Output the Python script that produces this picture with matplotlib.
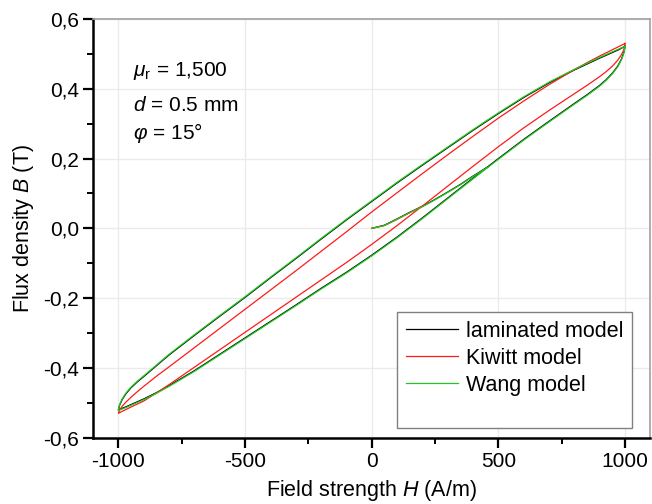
import matplotlib.pyplot as plt
from matplotlib.lines import Line2D
from matplotlib.ticker import MultipleLocator

plt.rcParams['font.family'] = ['Liberation Sans', 'DejaVu Sans']
plt.rcParams['mathtext.fontset'] = 'custom'
plt.rcParams['mathtext.rm'] = 'Liberation Sans'
plt.rcParams['mathtext.it'] = 'Liberation Sans:italic'
plt.rcParams['axes.unicode_minus'] = False

# field strength for the falling and rising branches (A/m)
H_down = [1000, 975, 950, 900, 850, 800, 700, 600, 500, 400, 300, 200, 100, 0,
          -100, -200, -300, -400, -500, -600, -700, -800, -850, -900, -925, -950, -970, -985, -995, -1000]
H_up = [-1000, -975, -950, -900, -850, -800, -700, -600, -500, -400, -300, -200, -100, 0,
        100, 200, 300, 400, 500, 600, 700, 800, 850, 900, 925, 950, 970, 985, 995, 1000]

# flux density (T)
lam_down = [0.522, 0.512, 0.504, 0.488, 0.471, 0.454, 0.417, 0.375, 0.329, 0.281, 0.231, 0.181, 0.130, 0.077,
            0.024, -0.031, -0.087, -0.142, -0.198, -0.252, -0.307, -0.363, -0.394, -0.425, -0.440, -0.457,
            -0.474, -0.491, -0.507, -0.520]
lam_up = [-0.520, -0.513, -0.505, -0.489, -0.471, -0.451, -0.408, -0.361, -0.314, -0.267, -0.220, -0.172,
          -0.126, -0.077, -0.025, 0.030, 0.087, 0.144, 0.200, 0.255, 0.307, 0.358, 0.383, 0.410, 0.426,
          0.445, 0.464, 0.484, 0.504, 0.522]

kiw_down = [0.530, 0.521, 0.512, 0.494, 0.475, 0.455, 0.412, 0.365, 0.316, 0.264, 0.211, 0.157, 0.102, 0.047,
            -0.010, -0.066, -0.122, -0.177, -0.232, -0.287, -0.342, -0.397, -0.424, -0.453, -0.468, -0.484,
            -0.498, -0.510, -0.521, -0.530]
kiw_up = [-0.530, -0.521, -0.512, -0.495, -0.472, -0.448, -0.398, -0.348, -0.298, -0.248, -0.198, -0.148,
          -0.098, -0.046, 0.008, 0.064, 0.121, 0.178, 0.234, 0.288, 0.338, 0.386, 0.410, 0.435, 0.449,
          0.465, 0.481, 0.497, 0.512, 0.530]

wang_down = [0.522, 0.514, 0.506, 0.490, 0.473, 0.456, 0.419, 0.377, 0.331, 0.283, 0.233, 0.183, 0.132, 0.079,
             0.026, -0.029, -0.085, -0.140, -0.196, -0.250, -0.305, -0.361, -0.392, -0.423, -0.438, -0.455,
             -0.472, -0.489, -0.505, -0.520]
wang_up = [-0.522, -0.515, -0.507, -0.491, -0.473, -0.453, -0.410, -0.363, -0.316, -0.269, -0.222, -0.174,
           -0.128, -0.079, -0.027, 0.028, 0.085, 0.142, 0.198, 0.253, 0.305, 0.356, 0.381, 0.408, 0.424,
           0.443, 0.462, 0.482, 0.502, 0.520]

# initial magnetisation curves
H_init_kiw = [0, 50, 100, 150, 200]
kiw_init = [0.0, 0.008, 0.026, 0.045, 0.064]
H_init = [0, 50, 100, 150, 200, 250, 300, 350, 400, 460]
lam_init = [0.0, 0.009, 0.027, 0.046, 0.063, 0.083, 0.104, 0.126, 0.150, 0.177]
wang_init = [0.0, 0.008, 0.026, 0.045, 0.062, 0.082, 0.103, 0.125, 0.149, 0.176]

x_ticks = [-1000, -500, 0, 500, 1000]
y_ticks = [-0.6, -0.4, -0.2, 0.0, 0.2, 0.4, 0.6]
y_labels = ['-0,6', '-0,4', '-0,2', '0,0', '0,2', '0,4', '0,6']

models = [
    ('laminated model', '#000000', lam_init, lam_down, lam_up, H_init),
    ('Kiwitt model', '#ff1a1a', kiw_init, kiw_down, kiw_up, H_init_kiw),
    ('Wang model', '#22c822', wang_init, wang_down, wang_up, H_init),
]

fig = plt.figure(figsize=(6.52, 5.04), dpi=100)
ax = fig.add_axes([0.1426, 0.1315, 0.855, 0.8308])

for name, col, b_init, b_down, b_up, h_init in models:
    ax.plot(h_init, b_init, color=col, lw=0.9)
    ax.plot(H_down + H_up, b_down + b_up, color=col, lw=0.9)

ax.set_xlim(-1100, 1100)
ax.set_ylim(-0.6, 0.6)
ax.set_xticks(x_ticks)
ax.set_yticks(y_ticks)
ax.set_yticklabels(y_labels)
ax.xaxis.set_minor_locator(MultipleLocator(250))
ax.yaxis.set_minor_locator(MultipleLocator(0.1))
ax.grid(True, which='major', color='#ebebeb', lw=1)
ax.set_axisbelow(True)

for side in ['left', 'bottom']:
    ax.spines[side].set_linewidth(1.8)
    ax.spines[side].set_color('black')
for side in ['top', 'right']:
    ax.spines[side].set_linewidth(1.2)
    ax.spines[side].set_color('#a0a0a0')

ax.tick_params(which='major', direction='out', length=7, width=1.6, labelsize=15, pad=3,
               top=False, right=False)
ax.tick_params(which='minor', direction='out', length=4, width=1.4, top=False, right=False)

ax.set_xlabel('Field strength $H$ (A/m)', fontsize=15.5, labelpad=5)
ax.set_ylabel('Flux density $B$ (T)', fontsize=15.5, labelpad=5)

ax.text(0.072, 0.875, r'$\mu_\mathrm{r}$ = 1,500', transform=ax.transAxes, fontsize=15, va='center')
ax.text(0.072, 0.794, r'$d$ = 0.5 mm', transform=ax.transAxes, fontsize=15, va='center')
ax.text(0.072, 0.727, r'$\varphi$ = 15°', transform=ax.transAxes, fontsize=15, va='center')

handles = [Line2D([], [], color=c, lw=0.9) for _, c, *_ in models]
handles.append(Line2D([], [], color='none'))
labels = [m[0] for m in models] + [' ']
leg = ax.legend(handles, labels, loc='upper left', bbox_to_anchor=(0.546, 0.301),
                fontsize=15.5, frameon=True, fancybox=False, framealpha=1,
                edgecolor='#808080', handlelength=2.4, handletextpad=0.35,
                borderpad=0.42, labelspacing=0.28, borderaxespad=0)
leg.get_frame().set_linewidth(1.0)
leg.get_texts()[3].set_fontsize(6)

fig.savefig('out.png', dpi=100)
